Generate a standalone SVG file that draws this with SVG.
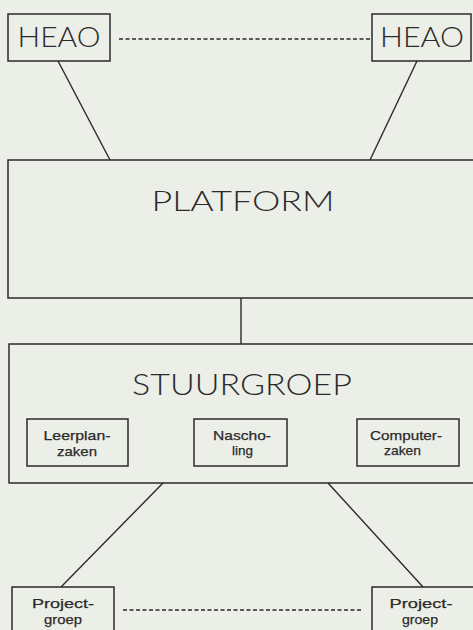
<svg xmlns="http://www.w3.org/2000/svg" width="473" height="630" viewBox="0 0 473 630">
<style>
.bg{fill:#eceee8}
.box{fill:none;stroke:#2a2a2a;stroke-width:1.5}
.ln{fill:none;stroke:#2a2a2a;stroke-width:1.4}
.dash{fill:none;stroke:#2a2a2a;stroke-width:1.3;stroke-dasharray:4 2.5}
.big{font-family:"Lato","Liberation Sans",sans-serif;font-weight:300;fill:#2a2a2a;text-anchor:middle}
.sm{font-family:"Liberation Sans","DejaVu Sans",sans-serif;font-size:13.5px;fill:#2a2a2a;stroke:#2a2a2a;stroke-width:0.25;text-anchor:middle}
</style>
<rect class="bg" x="0" y="0" width="473" height="630"/>
<g id="connectors">
<line class="dash" x1="119" y1="39" x2="370" y2="39"/>
<line class="ln" x1="58" y1="61" x2="110" y2="160"/>
<line class="ln" x1="417" y1="61" x2="370" y2="160"/>
<line class="ln" x1="241" y1="298" x2="241" y2="344"/>
<line class="ln" x1="163" y1="483" x2="61" y2="587"/>
<line class="ln" x1="328" y1="483" x2="423" y2="587"/>
<line class="dash" x1="123" y1="610" x2="363" y2="610"/>
</g>
<g id="heao-left">
<rect class="box" x="8" y="14" width="102" height="47"/>
<text class="big" x="59" y="47" font-size="28" textLength="83" lengthAdjust="spacingAndGlyphs">HEAO</text>
</g>
<g id="heao-right">
<rect class="box" x="372" y="14" width="99" height="47"/>
<text class="big" x="422" y="47" font-size="28" textLength="84" lengthAdjust="spacingAndGlyphs">HEAO</text>
</g>
<g id="platform">
<rect class="box" x="8" y="160" width="480" height="138"/>
<text class="big" x="243" y="211" font-size="27" textLength="183" lengthAdjust="spacingAndGlyphs">PLATFORM</text>
</g>
<g id="stuurgroep">
<rect class="box" x="9" y="344" width="480" height="139"/>
<text class="big" x="242" y="395" font-size="29" textLength="220" lengthAdjust="spacingAndGlyphs">STUURGROEP</text>
</g>
<g id="leerplanzaken">
<rect class="box" x="27" y="419" width="101" height="47"/>
<text class="sm" x="77" y="440" textLength="67" lengthAdjust="spacingAndGlyphs">Leerplan-</text>
<text class="sm" x="77" y="456" textLength="40" lengthAdjust="spacingAndGlyphs">zaken</text>
</g>
<g id="nascholing">
<rect class="box" x="194" y="419" width="93" height="47"/>
<text class="sm" x="242" y="440" textLength="58" lengthAdjust="spacingAndGlyphs">Nascho-</text>
<text class="sm" x="242.5" y="455" textLength="21" lengthAdjust="spacingAndGlyphs">ling</text>
</g>
<g id="computerzaken">
<rect class="box" x="357" y="419" width="102" height="47"/>
<text class="sm" x="406" y="440" textLength="72" lengthAdjust="spacingAndGlyphs">Computer-</text>
<text class="sm" x="402.5" y="455" textLength="37" lengthAdjust="spacingAndGlyphs">zaken</text>
</g>
<g id="projectgroep-left">
<rect class="box" x="12" y="587" width="102" height="60"/>
<text class="sm" x="63" y="608" textLength="62" lengthAdjust="spacingAndGlyphs">Project-</text>
<text class="sm" x="63" y="624" textLength="38" lengthAdjust="spacingAndGlyphs">groep</text>
</g>
<g id="projectgroep-right">
<rect class="box" x="372" y="587" width="120" height="60"/>
<text class="sm" x="421" y="608" textLength="63" lengthAdjust="spacingAndGlyphs">Project-</text>
<text class="sm" x="420" y="624" textLength="36" lengthAdjust="spacingAndGlyphs">groep</text>
</g>
</svg>
